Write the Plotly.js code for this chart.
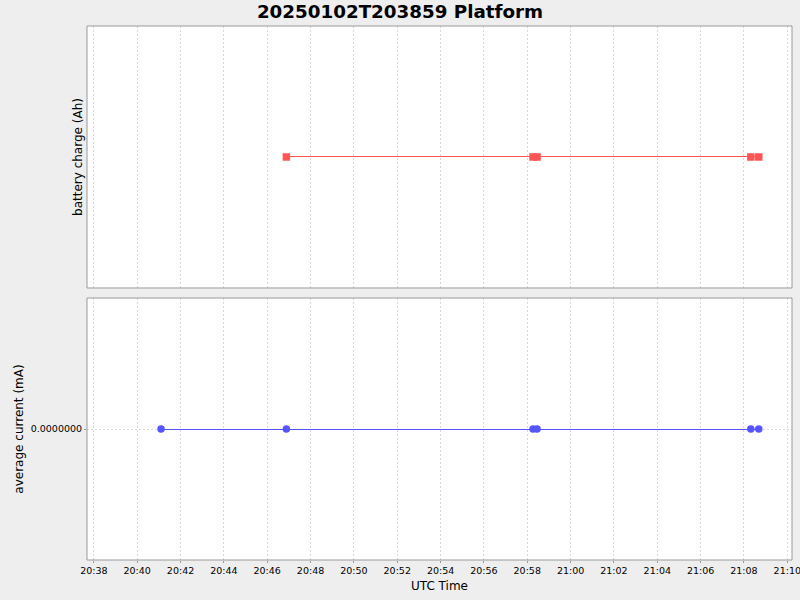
<!DOCTYPE html>
<html>
<head>
<meta charset="utf-8">
<script src="https://cdn.plot.ly/plotly-3.0.1.min.js"></script>
<style>
  html, body { margin: 0; padding: 0; background: #eeeeee; }
  #chart { width: 800px; height: 600px; }
  /* crisp 1px series lines, like the original renderer */
  .scatterlayer path.js-line { shape-rendering: crispEdges; }
</style>
</head>
<body>
<div id="chart"></div>
<script>
    // --- DATA ---
    const chargeTimes = [
        '2025-01-02 20:46:53', '2025-01-02 20:58:16', '2025-01-02 20:58:27',
        '2025-01-02 21:08:19', '2025-01-02 21:08:41'
    ];
    const chargeValues = [0, 0, 0, 0, 0];

    const currentTimes = [
        '2025-01-02 20:41:06', '2025-01-02 20:46:53', '2025-01-02 20:58:16',
        '2025-01-02 20:58:27', '2025-01-02 21:08:19', '2025-01-02 21:08:41'
    ];
    const currentValues = [0, 0, 0, 0, 0, 0];

    const timeRange = ['2025-01-02 20:37:41', '2025-01-02 21:10:13'];
    const currentTicks = [0];

    // --- STYLE ---
    const font = 'DejaVu Sans, sans-serif';
    const gridStyle = { showgrid: true, gridcolor: '#d9d9d9', griddash: '2px,2px', gridwidth: 1 };

    const traceCharge = {
        x: chargeTimes, y: chargeValues,
        xaxis: 'x2', yaxis: 'y2',
        type: 'scatter', mode: 'lines+markers',
        line: { color: '#ff5555', width: 1 },
        marker: { color: '#ff5555', symbol: 'square', size: 7.5 },
        hoverinfo: 'x+y'
    };

    const traceCurrent = {
        x: currentTimes, y: currentValues,
        xaxis: 'x', yaxis: 'y',
        type: 'scatter', mode: 'lines+markers',
        line: { color: '#5555ff', width: 1 },
        marker: { color: '#5555ff', symbol: 'circle', size: 7.5 },
        hoverinfo: 'x+y'
    };

    const panelBox = function(yref) {
        return {
            type: 'rect', xref: 'paper', yref: yref + ' domain',
            x0: 0, x1: 1, y0: 0, y1: 1,
            line: { color: '#999999', width: 1 }, layer: 'above'
        };
    };

    const layout = {
        width: 800, height: 600,
        paper_bgcolor: '#eeeeee',
        plot_bgcolor: '#ffffff',
        showlegend: false,
        font: { family: font, size: 11, color: '#000000' },
        margin: { l: 87, r: 8, t: 26, b: 40 },
        title: {
            text: '<b>20250102T203859 Platform</b>',
            font: { family: font, size: 18.3, color: '#000000' },
            x: 0.5, xanchor: 'center', y: 0.98, yanchor: 'middle'
        },
        xaxis: Object.assign({
            type: 'date', range: timeRange, anchor: 'y',
            dtick: 120000, tickformat: '%H:%M',
            ticks: 'outside', ticklen: 2, tickcolor: '#999999',
            ticklabeloverflow: 'allow',
            showline: false, zeroline: false,
            tickfont: { family: font, size: 9.5 },
            title: { text: 'UTC Time', font: { family: font, size: 12 }, standoff: 6 }
        }, gridStyle),
        xaxis2: Object.assign({
            type: 'date', range: timeRange, anchor: 'y2', matches: 'x',
            dtick: 120000, showticklabels: false, ticks: '',
            showline: false, zeroline: false
        }, gridStyle),
        yaxis: {
            domain: [0, 0.4906], range: [-1, 1],
            tickvals: currentTicks, tickformat: '.7f',
            ticks: 'outside', ticklen: 2, tickcolor: '#999999',
            showgrid: true, gridcolor: '#d9d9d9', griddash: '2px,2px',
            zeroline: false, showline: false,
            tickfont: { family: font, size: 9.5 },
            title: { text: 'average current (mA)', font: { family: font, size: 12 }, standoff: 4 }
        },
        yaxis2: {
            domain: [0.5094, 1], range: [-1, 1],
            showticklabels: false, ticks: '', showgrid: false,
            zeroline: false, showline: false,
            title: { text: 'battery charge (Ah)', font: { family: font, size: 12 }, standoff: 0 }
        },
        shapes: [panelBox('y'), panelBox('y2')]
    };

    Plotly.newPlot('chart', [traceCharge, traceCurrent], layout, { displayModeBar: false, staticPlot: true });
</script>
</body>
</html>
